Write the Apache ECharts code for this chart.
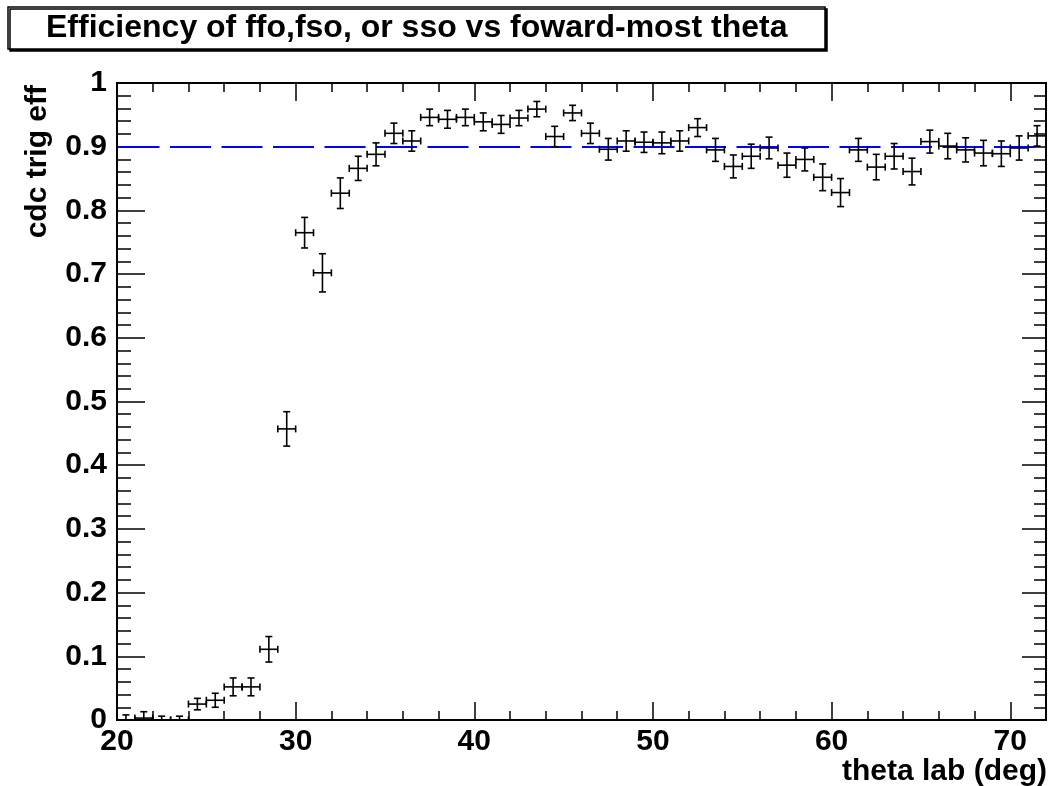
<!DOCTYPE html>
<html>
<head>
<meta charset="utf-8">
<script src="https://cdn.jsdelivr.net/npm/echarts@6/dist/echarts.min.js"></script>
<style>
html,body{margin:0;padding:0;background:#fff;}
#chart{width:1051px;height:786px;}
</style>
</head>
<body>
<div id="chart"></div>
<script>
// ---- data ----
const theta = [20.5,21.5,22.5,23.5,24.5,25.5,26.5,27.5,28.5,29.5,
  30.5,31.5,32.5,33.5,34.5,35.5,36.5,37.5,38.5,39.5,
  40.5,41.5,42.5,43.5,44.5,45.5,46.5,47.5,48.5,49.5,
  50.5,51.5,52.5,53.5,54.5,55.5,56.5,57.5,58.5,59.5,
  60.5,61.5,62.5,63.5,64.5,65.5,66.5,67.5,68.5,69.5,
  70.5,71.5];
const eff = [0.000,0.003,0.000,0.000,0.025,0.031,0.052,0.052,0.111,0.457,
  0.765,0.702,0.827,0.866,0.888,0.921,0.909,0.946,0.943,0.946,
  0.939,0.935,0.945,0.959,0.916,0.953,0.921,0.896,0.909,0.907,
  0.906,0.909,0.930,0.895,0.869,0.885,0.898,0.871,0.880,0.852,
  0.828,0.895,0.868,0.885,0.861,0.908,0.901,0.895,0.890,0.889,
  0.898,0.917];
const effErr = [0.008,0.010,0.006,0.006,0.009,0.011,0.014,0.014,0.020,0.027,
  0.024,0.030,0.024,0.019,0.018,0.016,0.016,0.013,0.014,0.013,
  0.014,0.014,0.012,0.012,0.016,0.012,0.016,0.017,0.016,0.016,
  0.017,0.016,0.014,0.018,0.018,0.019,0.017,0.019,0.018,0.021,
  0.022,0.018,0.020,0.020,0.021,0.018,0.020,0.019,0.020,0.020,
  0.019,0.016];
const binHalfWidth = 0.5;
const refLevel = 0.9;
const xTickLabels = ['20','30','40','50','60','70'];
const yTickLabels = ['0','0.1','0.2','0.3','0.4','0.5','0.6','0.7','0.8','0.9','1'];
const titleText = 'Efficiency of ffo,fso, or sso vs foward-most theta';
const xTitle = 'theta lab (deg)';
const yTitle = 'cdc trig eff';

// ---- chart ----
const FONT = "'Liberation Sans', Arial, Helvetica, sans-serif";
const chart = echarts.init(document.getElementById('chart'), null, {renderer:'canvas'});
const seriesData = theta.map((t,i)=>[t, eff[i], effErr[i]]);

const GL = 117, GT = 83, GB = 66, GR = 5;
const gridW = 1051 - GL - GR;
const x70 = GL + gridW * (70 - 20) / (72 - 20);

const tickStyle = {color:'#000', width:1.5};
const option = {
  animation:false,
  backgroundColor:'#fff',
  title:{
    text:titleText,
    left:8, top:7,
    padding:[5,38,5,38],
    backgroundColor:'#fff',
    borderColor:'#000', borderWidth:1.5,
    shadowColor:'#000', shadowOffsetX:2, shadowOffsetY:2, shadowBlur:0,
    textStyle:{fontFamily:FONT, fontWeight:'bold', fontSize:32, color:'#000', lineHeight:32}
  },
  grid:[
    {left:GL, right:GR, top:GT, bottom:GB, show:true, borderColor:'#000', borderWidth:2, backgroundColor:'transparent'},
    {left:GL, right:1051 - x70, top:GT, bottom:GB}
  ],
  xAxis:[
    {gridIndex:0, type:'value', position:'bottom', min:20, max:72, interval:2,
     axisLine:{show:true, onZero:false, lineStyle:{color:'#000', width:2}},
     axisTick:{show:true, inside:true, length:9, lineStyle:tickStyle},
     axisLabel:{show:false}, splitLine:{show:false}},
    {gridIndex:0, type:'value', position:'top', min:20, max:72, interval:2,
     axisLine:{show:true, onZero:false, lineStyle:{color:'#000', width:2}},
     axisTick:{show:true, inside:true, length:9, lineStyle:tickStyle},
     axisLabel:{show:false}, splitLine:{show:false}},
    {gridIndex:1, type:'value', position:'bottom', min:20, max:70, interval:10,
     axisLine:{show:false, onZero:false},
     axisTick:{show:true, inside:true, length:18, lineStyle:tickStyle},
     axisLabel:{show:true, margin:7, color:'#000', fontFamily:FONT, fontWeight:'bold', fontSize:30,
       formatter:(v)=>xTickLabels[Math.round((v-20)/10)]},
     splitLine:{show:false}},
    {gridIndex:1, type:'value', position:'top', min:20, max:70, interval:10,
     axisLine:{show:false, onZero:false},
     axisTick:{show:true, inside:true, length:18, lineStyle:tickStyle},
     axisLabel:{show:false}, splitLine:{show:false}}
  ],
  yAxis:[
    {gridIndex:0, type:'value', position:'left', min:0, max:1, interval:0.1,
     axisLine:{show:true, onZero:false, lineStyle:{color:'#000', width:2}},
     axisTick:{show:true, inside:true, length:28, lineStyle:tickStyle},
     minorTick:{show:true, splitNumber:5, length:14, lineStyle:tickStyle},
     axisLabel:{show:true, margin:10, color:'#000', fontFamily:FONT, fontWeight:'bold', fontSize:30,
       formatter:(v)=>yTickLabels[Math.round(v*10)]},
     splitLine:{show:false}, minorSplitLine:{show:false}},
    {gridIndex:0, type:'value', position:'right', min:0, max:1, interval:0.1,
     axisLine:{show:true, onZero:false, lineStyle:{color:'#000', width:2}},
     axisTick:{show:true, inside:true, length:24, lineStyle:tickStyle},
     minorTick:{show:true, splitNumber:5, length:12, lineStyle:tickStyle},
     axisLabel:{show:false}, splitLine:{show:false}, minorSplitLine:{show:false}},
    {gridIndex:1, type:'value', min:0, max:1, show:false}
  ],
  series:[
    {
      type:'custom',
      xAxisIndex:0, yAxisIndex:0,
      data:seriesData,
      clip:true,
      renderItem:function(params, api){
        const x = api.value(0), y = api.value(1), e = api.value(2);
        const c = api.coord([x, y]);
        const l = api.coord([x - binHalfWidth, y]);
        const r = api.coord([x + binHalfWidth, y]);
        const t = api.coord([x, y + e]);
        const b = api.coord([x, Math.max(0, y - e)]);
        const cap = 3.5;
        const st = {stroke:'#000', lineWidth:1.6, fill:null};
        const line = (x1,y1,x2,y2)=>({type:'line', shape:{x1,y1,x2,y2}, style:st});
        return {type:'group', children:[
          line(l[0], c[1], r[0], c[1]),
          line(c[0], t[1], c[0], b[1]),
          line(c[0]-cap, t[1], c[0]+cap, t[1]),
          line(c[0]-cap, b[1], c[0]+cap, b[1]),
          line(l[0], c[1]-cap, l[0], c[1]+cap),
          line(r[0], c[1]-cap, r[0], c[1]+cap)
        ]};
      },
      markLine:{
        silent:true, symbol:'none', label:{show:false},
        lineStyle:{color:'#0000ff', width:2, type:[41,10.5], dashOffset:50},
        data:[{yAxis:refLevel}]
      },
      z:5
    }
  ],
  graphic:[
    {type:'text', x:1047, y:772,
     style:{text:xTitle, font:"bold 30px " + FONT, fill:'#000', textAlign:'right', textVerticalAlign:'middle', align:'right', verticalAlign:'middle'}},
    {type:'text', x:38, y:85, rotation:Math.PI/2,
     style:{text:yTitle, font:"bold 30px " + FONT, fill:'#000', textAlign:'right', textVerticalAlign:'middle', align:'right', verticalAlign:'middle'}}
  ]
};
chart.setOption(option);
</script>
</body>
</html>
